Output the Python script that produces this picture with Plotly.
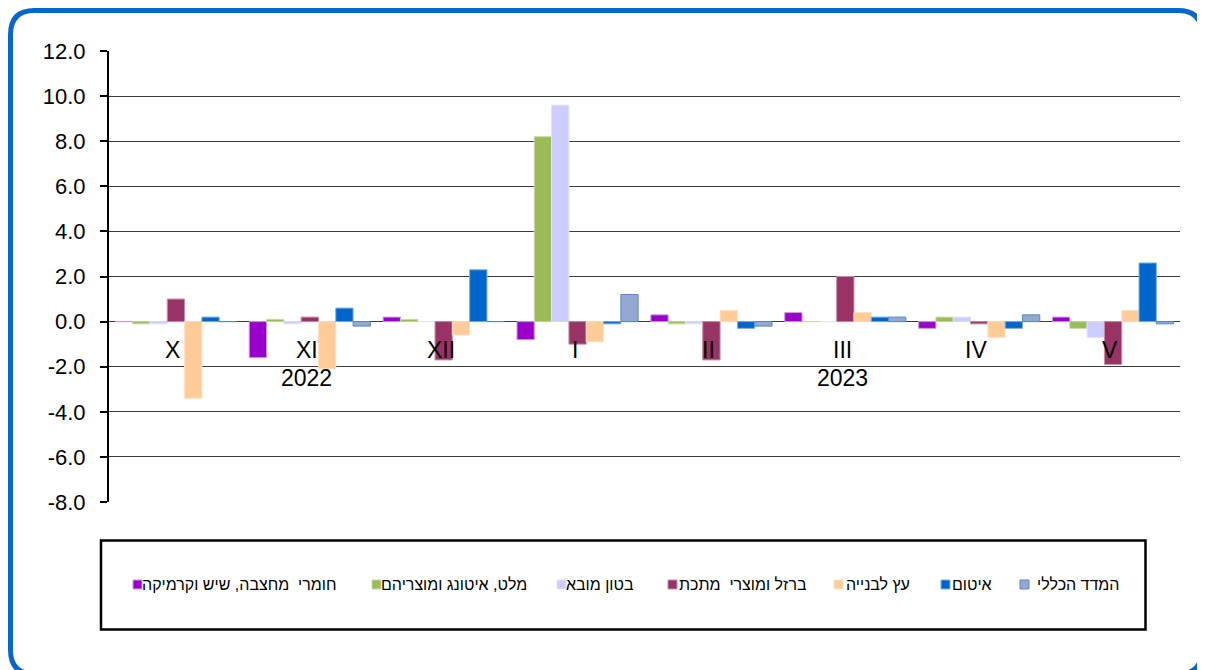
import plotly.graph_objects as go

months = ["X", "XI", "XII", "I", "II", "III", "IV", "V"]
years = {"XI": "2022", "III": "2023"}
y_tick_values = [-8, -6, -4, -2, 0, 2, 4, 6, 8, 10, 12]
y_tick_labels = ["-8.0", "-6.0", "-4.0", "-2.0", "0.0", "2.0", "4.0", "6.0", "8.0", "10.0", "12.0"]

series_names = [
    "חומרי\u00a0 מחצבה, שיש וקרמיקה",
    "מלט, איטונג ומוצריהם",
    "בטון מובא",
    "ברזל ומוצרי\u00a0 מתכת",
    "עץ לבנייה",
    "איטום",
    "המדד הכללי",
]
quarry = [0.0, -1.6, 0.2, -0.8, 0.3, 0.4, -0.3, 0.2]
cement = [-0.1, 0.1, 0.1, 8.2, -0.1, 0.0, 0.2, -0.3]
concrete = [-0.1, -0.1, 0.0, 9.6, -0.1, 0.0, 0.2, -0.7]
iron = [1.0, 0.2, -1.7, -1.0, -1.7, 2.0, -0.1, -1.9]
wood = [-3.4, -2.1, -0.6, -0.9, 0.5, 0.4, -0.7, 0.5]
sealing = [0.2, 0.6, 2.3, -0.1, -0.3, 0.2, -0.3, 2.6]
general = [0.0, -0.2, 0.0, 1.2, -0.2, 0.2, 0.3, -0.1]
series_values = [quarry, cement, concrete, iron, wood, sealing, general]
colors = ["#9900CC", "#9BBB59", "#CCCCFF", "#993366", "#FFCC99", "#0066CC", "#95A9D0"]
edge_colors = ["#C99BE0", "#C7DBA5", "#E3E3FF", "#C48FA6", "#FFE2C6", "#7FAEE0", "#5B87C5"]

# page body has an 8px margin: work in screenshot pixels and shift
OFF = 8
W, H = 1205 - OFF, 670 - OFF
L, R, T, B = 101, 25, 43, 168
pw, ph = W - L - R, H - T - B


def px(x):
    return (x - OFF - L) / pw


def py(y):
    return (H - B - (y - OFF)) / ph


fig = go.Figure()
for name, vals, c, ec in zip(series_names, series_values, colors, edge_colors):
    fig.add_trace(go.Bar(
        x=months, y=vals, name=name.replace("\u00a0", ""),
        marker=dict(color=c, line=dict(color=ec, width=1)),
    ))

font = "Liberation Sans, Arial, sans-serif"
annotations = []
for m in months:
    annotations.append(dict(x=m, y=-1.25, xref="x", yref="y", text=m, showarrow=False,
                            font=dict(family=font, size=23, color="#000000"),
                            xanchor="center", yanchor="middle", xshift=-3))
    if m in years:
        annotations.append(dict(x=m, y=-2.5, xref="x", yref="y", text=years[m], showarrow=False,
                                font=dict(family=font, size=23, color="#000000"),
                                xanchor="center", yanchor="middle", xshift=-3))

# outer rounded border
x0, y0, x1, y1, r = 10.5, 10.5, 1202, 674, 24
path = (
    f"M {px(x0 + r)} {py(y0)} L {px(x1 - r)} {py(y0)} Q {px(x1)} {py(y0)} {px(x1)} {py(y0 + r)} "
    f"L {px(x1)} {py(y1 - r)} Q {px(x1)} {py(y1)} {px(x1 - r)} {py(y1)} "
    f"L {px(x0 + r)} {py(y1)} Q {px(x0)} {py(y1)} {px(x0)} {py(y1 - r)} "
    f"L {px(x0)} {py(y0 + r)} Q {px(x0)} {py(y0)} {px(x0 + r)} {py(y0)} Z"
)
shapes = [
    dict(type="path", path=path, xref="paper", yref="paper",
         line=dict(color="#0A66CC", width=5), layer="below"),
    dict(type="rect", xref="paper", yref="paper",
         x0=px(101), x1=px(1145.5), y0=py(629.5), y1=py(540.5),
         line=dict(color="#000000", width=2.5)),
]

# custom legend (marker left of the right-to-left text)
leg_marker_left = [133, 372, 557, 668, 834, 941, 1020]
leg_text_right = [338, 529, 636, 809, 912, 994, 1121]
leg_y = 584.5
for name, c, ec, mx, tx in zip(series_names, colors, edge_colors, leg_marker_left, leg_text_right):
    shapes.append(dict(type="rect", xref="paper", yref="paper",
                       x0=px(mx), x1=px(mx + 9), y0=py(leg_y + 4.5), y1=py(leg_y - 4.5),
                       fillcolor=c, line=dict(color=ec, width=1)))
    annotations.append(dict(x=px(tx), y=py(leg_y), xref="paper", yref="paper", text=name,
                            showarrow=False, xanchor="right", yanchor="middle",
                            font=dict(family=font, size=16, color="#000000")))

fig.update_layout(
    width=W, height=H,
    margin=dict(l=L, r=R, t=T, b=B),
    paper_bgcolor="white", plot_bgcolor="white",
    barmode="group", bargap=0.095, bargroupgap=0,
    showlegend=False,
    xaxis=dict(showticklabels=False, showgrid=False, zeroline=False, showline=False,
               ticks="", fixedrange=True),
    yaxis=dict(range=[-8, 12], tickmode="array", tickvals=y_tick_values, ticktext=y_tick_labels,
               showgrid=True, gridcolor="#3C3C3C", gridwidth=1.3,
               zeroline=True, zerolinecolor="#3C3C3C", zerolinewidth=1.3,
               showline=True, linecolor="#000000", linewidth=2,
               ticks="outside", ticklen=7, tickwidth=2, tickcolor="#000000",
               ticklabelstandoff=10,
               tickfont=dict(family=font, size=22, color="#000000")),
    annotations=annotations,
    shapes=shapes,
    font=dict(family=font),
)

fig.write_html("out.html")
